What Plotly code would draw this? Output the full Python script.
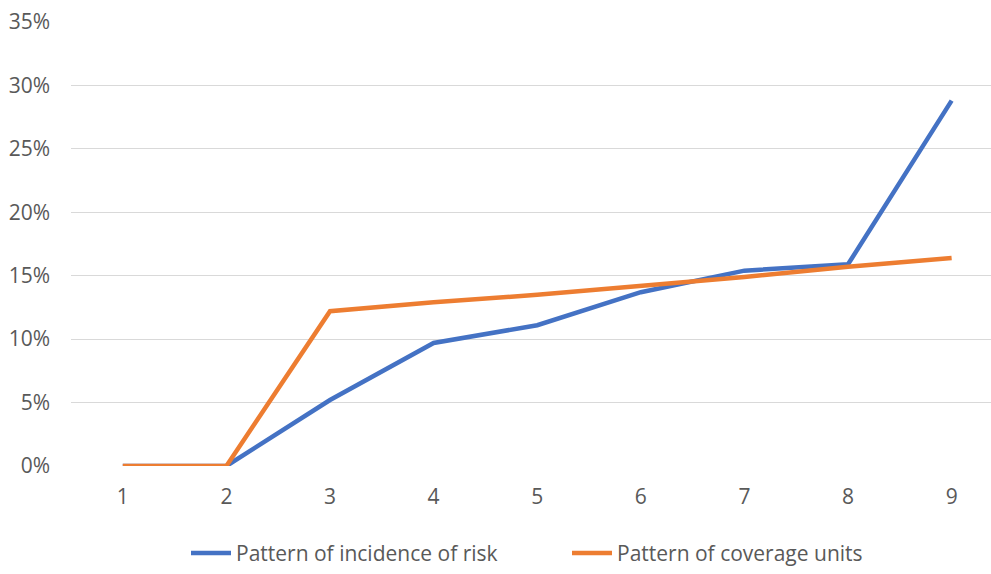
import plotly.graph_objects as go

# Category labels along the x axis
periods = [1, 2, 3, 4, 5, 6, 7, 8, 9]

# Series values (fractions, shown as percentages)
incidence_of_risk = [0.0, 0.0, 0.052, 0.097, 0.111, 0.137, 0.154, 0.159, 0.288]
coverage_units = [0.0, 0.0, 0.122, 0.129, 0.135, 0.142, 0.149, 0.157, 0.164]

y_ticks = [0, 0.05, 0.10, 0.15, 0.20, 0.25, 0.30, 0.35]

FONT = "Open Sans, Segoe UI, sans-serif"
GREY = "#595959"
SIZE = 21

fig = go.Figure()
fig.add_trace(go.Scatter(
    x=periods, y=incidence_of_risk, mode="lines",
    name="Pattern of incidence of risk",
    line=dict(color="#4472C4", width=4.5),
))
fig.add_trace(go.Scatter(
    x=periods, y=coverage_units, mode="lines",
    name="Pattern of coverage units",
    line=dict(color="#ED7D31", width=4.5),
))

fig.update_layout(
    width=991, height=574,
    margin=dict(l=71, r=0, t=22, b=105),
    paper_bgcolor="white", plot_bgcolor="white",
    font=dict(family=FONT, size=SIZE, color=GREY),
    showlegend=True,
    legend=dict(
        orientation="h", x=(186 - 71) / 920, xanchor="left",
        y=-0.197, yanchor="middle",
        font=dict(family=FONT, size=SIZE, color=GREY),
        itemwidth=40, tracegroupgap=0,
        entrywidth=326, entrywidthmode="pixels",
    ),
    xaxis=dict(
        range=[0.5, 9.38], tickmode="array", tickvals=periods,
        ticktext=[str(p) for p in periods],
        showgrid=False, zeroline=False, showline=False,
        ticks="", ticklabelstandoff=16,
        tickfont=dict(family=FONT, size=SIZE, color=GREY),
    ),
    yaxis=dict(
        range=[0, 0.35], tickmode="array", tickvals=y_ticks,
        tickformat=".0%",
        showgrid=True, gridcolor="#D9D9D9", gridwidth=1.3,
        zeroline=False, showline=False, ticks="",
        ticklabelstandoff=20,
        tickfont=dict(family=FONT, size=SIZE, color=GREY),
    ),
)

fig.write_html("out.html")
